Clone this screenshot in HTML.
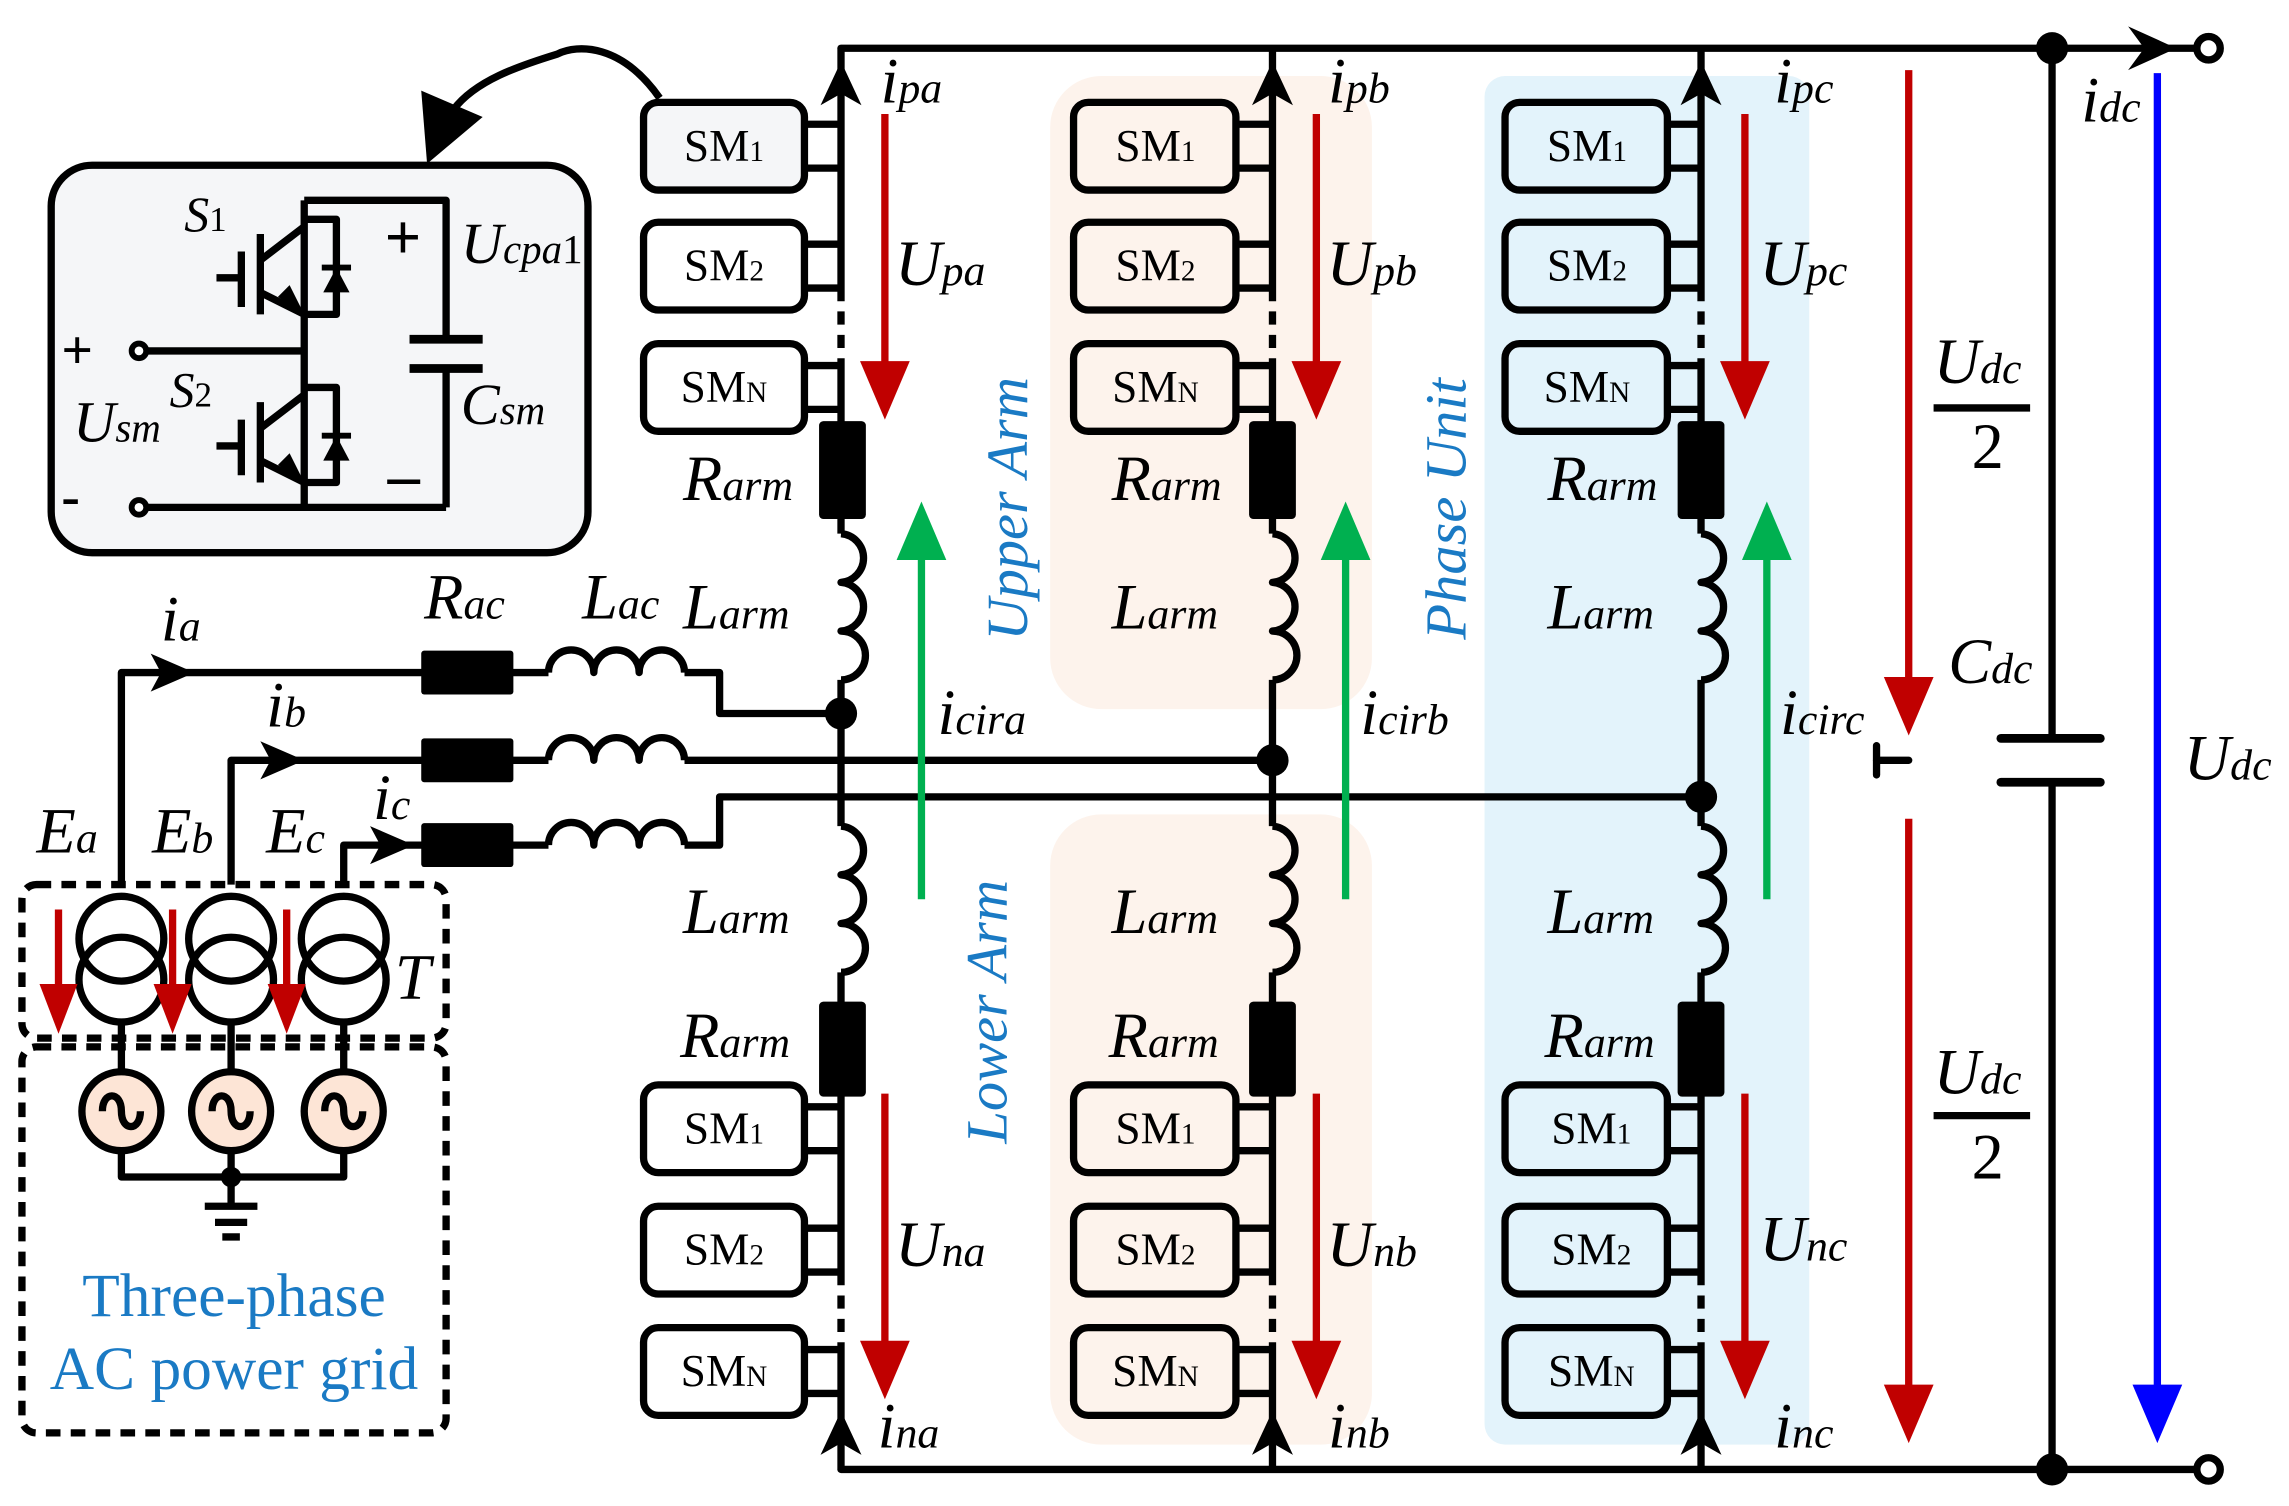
<!DOCTYPE html>
<html><head><meta charset="utf-8"><style>
html,body{margin:0;padding:0;background:#fff}
svg{display:block}
text{font-family:"Liberation Serif",serif}
.it{font-style:italic}
</style></head><body>
<svg width="2289" height="1506" viewBox="0 0 1565 1030" preserveAspectRatio="none" xmlns="http://www.w3.org/2000/svg">
<rect width="1565" height="1030" fill="#fff"/>
<rect x="718" y="52" width="220" height="433" rx="35" fill="#fdf3ec"/>
<rect x="718" y="557" width="220" height="431" rx="35" fill="#fdf3ec"/>
<rect x="1015" y="52" width="222" height="936" rx="14" fill="#e3f3fb"/>

<g stroke="#000" stroke-width="5" fill="none" stroke-linecap="round" stroke-linejoin="round">
<line x1="575" y1="33" x2="1502" y2="33"/>
<line x1="575" y1="1005" x2="1502" y2="1005"/>
<line x1="1403" y1="33" x2="1403" y2="505"/>
<line x1="1403" y1="535" x2="1403" y2="1005"/>
<line x1="1368" y1="505" x2="1436" y2="505" stroke-width="6"/>
<line x1="1368" y1="535" x2="1436" y2="535" stroke-width="6"/>
<line x1="1283" y1="520" x2="1305" y2="520"/>
<line x1="1283" y1="510" x2="1283" y2="530"/>
</g>
<circle cx="1403" cy="33" r="11" fill="#000"/>
<circle cx="1403" cy="1005" r="11" fill="#000"/>
<circle cx="1510" cy="33" r="8" fill="#fff" stroke="#000" stroke-width="5"/>
<circle cx="1510" cy="1005" r="8" fill="#fff" stroke="#000" stroke-width="5"/>
<polygon points="1488,33 1455,18 1466,33 1455,48" fill="#000"/>

<g stroke="#000" stroke-width="5" fill="none" stroke-linejoin="round">
<path d="M575,33V197 M575,250V365 M575,465V565 M575,665V870 M575,923V1005"/>
<path d="M575,197V250 M575,870V923" stroke-dasharray="9,7"/>
<path d="M575,365a16.7,16.7 0 0 1 0,33.3a16.7,16.7 0 0 1 0,33.3a16.7,16.7 0 0 1 0,33.4"/>
<path d="M575,565a16.7,16.7 0 0 1 0,33.3a16.7,16.7 0 0 1 0,33.3a16.7,16.7 0 0 1 0,33.4"/>
<path d="M870,33V197 M870,250V365 M870,465V565 M870,665V870 M870,923V1005"/>
<path d="M870,197V250 M870,870V923" stroke-dasharray="9,7"/>
<path d="M870,365a16.7,16.7 0 0 1 0,33.3a16.7,16.7 0 0 1 0,33.3a16.7,16.7 0 0 1 0,33.4"/>
<path d="M870,565a16.7,16.7 0 0 1 0,33.3a16.7,16.7 0 0 1 0,33.3a16.7,16.7 0 0 1 0,33.4"/>
<path d="M1163,33V197 M1163,250V365 M1163,465V565 M1163,665V870 M1163,923V1005"/>
<path d="M1163,197V250 M1163,870V923" stroke-dasharray="9,7"/>
<path d="M1163,365a16.7,16.7 0 0 1 0,33.3a16.7,16.7 0 0 1 0,33.3a16.7,16.7 0 0 1 0,33.4"/>
<path d="M1163,565a16.7,16.7 0 0 1 0,33.3a16.7,16.7 0 0 1 0,33.3a16.7,16.7 0 0 1 0,33.4"/>
<path d="M550,85H575 M550,115H575 M550,167H575 M550,197H575 M550,250H575 M550,280H575 M550,757H575 M550,787H575 M550,840H575 M550,870H575 M550,923H575 M550,953H575"/>
<path d="M845,85H870 M845,115H870 M845,167H870 M845,197H870 M845,250H870 M845,280H870 M845,757H870 M845,787H870 M845,840H870 M845,870H870 M845,923H870 M845,953H870"/>
<path d="M1140,85H1163 M1140,115H1163 M1140,167H1163 M1140,197H1163 M1140,250H1163 M1140,280H1163 M1140,757H1163 M1140,787H1163 M1140,840H1163 M1140,870H1163 M1140,923H1163 M1140,953H1163"/>
<rect x="440" y="70" width="110" height="60" rx="10" fill="#f5f6f8"/>
<rect x="440" y="152" width="110" height="60" rx="10" fill="#fff"/>
<rect x="440" y="235" width="110" height="60" rx="10" fill="#fff"/>
<rect x="440" y="742" width="110" height="60" rx="10" fill="#fff"/>
<rect x="440" y="825" width="110" height="60" rx="10" fill="#fff"/>
<rect x="440" y="908" width="110" height="60" rx="10" fill="#fff"/>
<rect x="734" y="70" width="111" height="60" rx="10" fill="#fdf3ec"/>
<rect x="734" y="152" width="111" height="60" rx="10" fill="#fdf3ec"/>
<rect x="734" y="235" width="111" height="60" rx="10" fill="#fdf3ec"/>
<rect x="734" y="742" width="111" height="60" rx="10" fill="#fdf3ec"/>
<rect x="734" y="825" width="111" height="60" rx="10" fill="#fdf3ec"/>
<rect x="734" y="908" width="111" height="60" rx="10" fill="#fdf3ec"/>
<rect x="1029" y="70" width="111" height="60" rx="10" fill="#e3f3fb"/>
<rect x="1029" y="152" width="111" height="60" rx="10" fill="#e3f3fb"/>
<rect x="1029" y="235" width="111" height="60" rx="10" fill="#e3f3fb"/>
<rect x="1029" y="742" width="111" height="60" rx="10" fill="#e3f3fb"/>
<rect x="1029" y="825" width="111" height="60" rx="10" fill="#e3f3fb"/>
<rect x="1029" y="908" width="111" height="60" rx="10" fill="#e3f3fb"/>
<path d="M83,605V460H290 M350,460H375 M468,460H492V488H575"/>
<path d="M375,460a15.5,15.5 0 0 1 31,0a15.5,15.5 0 0 1 31,0a15.5,15.5 0 0 1 31,0"/>
<path d="M158,605V520H290 M350,520H375 M468,520H870"/>
<path d="M375,520a15.5,15.5 0 0 1 31,0a15.5,15.5 0 0 1 31,0a15.5,15.5 0 0 1 31,0"/>
<path d="M235,605V578H290 M350,578H375 M468,578H492V545H1163"/>
<path d="M375,578a15.5,15.5 0 0 1 31,0a15.5,15.5 0 0 1 31,0a15.5,15.5 0 0 1 31,0"/>
<circle cx="83" cy="642" r="29"/><circle cx="83" cy="670" r="29"/>
<circle cx="158" cy="642" r="29"/><circle cx="158" cy="670" r="29"/>
<circle cx="235" cy="642" r="29"/><circle cx="235" cy="670" r="29"/>
<path d="M83,699V733 M158,699V733 M235,699V733"/>
<circle cx="83" cy="760" r="27" fill="#fde5d6"/>
<circle cx="158" cy="760" r="27" fill="#fde5d6"/>
<circle cx="235" cy="760" r="27" fill="#fde5d6"/>
<path d="M70,760c0,-14 13,-14 13,0s13,14 13,0 M145,760c0,-14 13,-14 13,0s13,14 13,0 M222,760c0,-14 13,-14 13,0s13,14 13,0"/>
<path d="M83,787V805H235V787 M158,787V825 M140,825H176 M147,836H169 M152,846H164"/>
<rect x="15" y="605" width="290" height="105" rx="10" stroke-dasharray="10,7"/>
<rect x="15" y="716" width="290" height="264" rx="10" stroke-dasharray="10,7"/>
<rect x="35" y="113" width="367" height="265" rx="28" fill="#f5f6f8"/>
<path d="M451,67C425,30 395,30 381,37C355,45 325,55 310,75" stroke-width="5"/>
<path d="M95,240H208 M95,347H305 M208,137H305V232 M305,252V347 M208,137V347"/>
<path d="M280,232H330 M280,252H330" stroke-width="6"/>
<path d="M208,150H230V215H208 M208,265H230V330H208"/>
<path d="M178,160V215 M165,172V210 M148,190H165 M178,178L208,155 M178,200L208,215"/>
<path d="M178,275V330 M165,287V325 M148,305H165 M178,293L208,270 M178,315L208,330"/>
</g>
<polygon points="288,62 330,80 292,112" fill="#000"/>
<circle cx="95" cy="240" r="5" fill="#fff" stroke="#000" stroke-width="4"/>
<circle cx="95" cy="347" r="5" fill="#fff" stroke="#000" stroke-width="4"/>
<polygon points="221,200 239,200 230,183" fill="#000"/><line x1="220" y1="183" x2="240" y2="183" stroke="#000" stroke-width="4"/>
<polygon points="221,315 239,315 230,298" fill="#000"/><line x1="220" y1="298" x2="240" y2="298" stroke="#000" stroke-width="4"/>
<polygon points="208,215 190,203 198,195" fill="#000"/>
<polygon points="208,330 190,318 198,310" fill="#000"/>
<text x="263" y="177" font-size="44" font-weight="bold">+</text>
<text x="265" y="340" font-size="44" font-weight="bold">–</text>
<text x="42" y="252" font-size="38" font-weight="bold">+</text>
<text x="42" y="352" font-size="38" font-weight="bold">-</text>
<text x="126" y="158" font-size="34" class="it">S<tspan font-size="24" font-style="normal">1</tspan></text>
<text x="116" y="278" font-size="34" class="it">S<tspan font-size="24" font-style="normal">2</tspan></text>
<text x="315" y="180" font-size="40" class="it">U<tspan font-size="28">cpa</tspan><tspan font-size="28" font-style="normal">1</tspan></text>
<text x="315" y="290" font-size="40" class="it">C<tspan font-size="28">sm</tspan></text>
<text x="50" y="302" font-size="40" class="it">U<tspan font-size="28">sm</tspan></text>

<g fill="#000">
<rect x="560" y="288" width="32" height="67" rx="3"/><rect x="560" y="685" width="32" height="65" rx="3"/>
<rect x="854" y="288" width="32" height="67" rx="3"/><rect x="854" y="685" width="32" height="65" rx="3"/>
<rect x="1147" y="288" width="32" height="67" rx="3"/><rect x="1147" y="685" width="32" height="65" rx="3"/>
<rect x="288" y="445" width="63" height="30" rx="2"/><rect x="288" y="505" width="63" height="30" rx="2"/><rect x="288" y="563" width="63" height="30" rx="2"/>
<circle cx="575" cy="488" r="11"/><circle cx="870" cy="520" r="11"/><circle cx="1163" cy="545" r="11"/><circle cx="158" cy="805" r="7"/>
<polygon points="575,42 561,72 575,64 589,72"/><polygon points="870,42 856,72 870,64 884,72"/><polygon points="1163,42 1149,72 1163,64 1177,72"/>
<polygon points="575,965 561,995 575,987 589,995"/><polygon points="870,965 856,995 870,987 884,995"/><polygon points="1163,965 1149,995 1163,987 1177,995"/>
<polygon points="133,460 103,447 110,460 103,473"/><polygon points="208,520 178,507 185,520 178,533"/><polygon points="283,578 253,565 260,578 253,591"/>
</g>
<g stroke="#c00000" stroke-width="5">
<line x1="605" y1="78" x2="605" y2="255"/><line x1="900" y1="78" x2="900" y2="255"/><line x1="1193" y1="78" x2="1193" y2="255"/>
<line x1="605" y1="748" x2="605" y2="925"/><line x1="900" y1="748" x2="900" y2="925"/><line x1="1193" y1="748" x2="1193" y2="925"/>
<line x1="1305" y1="48" x2="1305" y2="470"/><line x1="1305" y1="560" x2="1305" y2="955"/>
<line x1="40" y1="622" x2="40" y2="680"/><line x1="118" y1="622" x2="118" y2="680"/><line x1="196" y1="622" x2="196" y2="680"/>
</g>
<g fill="#c00000">
<polygon points="605,287 588,247 622,247"/><polygon points="900,287 883,247 917,247"/><polygon points="1193,287 1176,247 1210,247"/>
<polygon points="605,957 588,917 622,917"/><polygon points="900,957 883,917 917,917"/><polygon points="1193,957 1176,917 1210,917"/>
<polygon points="1305,503 1288,463 1322,463"/><polygon points="1305,987 1288,947 1322,947"/>
<polygon points="40,707 27,673 53,673"/><polygon points="118,707 105,673 131,673"/><polygon points="196,707 183,673 209,673"/>
</g>
<g stroke="#00b050" stroke-width="5">
<line x1="630" y1="615" x2="630" y2="375"/><line x1="920" y1="615" x2="920" y2="375"/><line x1="1208" y1="615" x2="1208" y2="375"/>
</g>
<g fill="#00b050">
<polygon points="630,343 613,383 647,383"/><polygon points="920,343 903,383 937,383"/><polygon points="1208,343 1191,383 1225,383"/>
</g>
<line x1="1475" y1="50" x2="1475" y2="955" stroke="#0000ff" stroke-width="5"/>
<polygon points="1475,987 1458,947 1492,947" fill="#0000ff"/>

<g font-size="31" text-anchor="middle">
<text x="495" y="110">SM<tspan font-size="20">1</tspan></text><text x="495" y="192">SM<tspan font-size="20">2</tspan></text><text x="495" y="275">SM<tspan font-size="20">N</tspan></text>
<text x="495" y="782">SM<tspan font-size="20">1</tspan></text><text x="495" y="865">SM<tspan font-size="20">2</tspan></text><text x="495" y="948">SM<tspan font-size="20">N</tspan></text>
<text x="790" y="110">SM<tspan font-size="20">1</tspan></text><text x="790" y="192">SM<tspan font-size="20">2</tspan></text><text x="790" y="275">SM<tspan font-size="20">N</tspan></text>
<text x="790" y="782">SM<tspan font-size="20">1</tspan></text><text x="790" y="865">SM<tspan font-size="20">2</tspan></text><text x="790" y="948">SM<tspan font-size="20">N</tspan></text>
<text x="1085" y="110">SM<tspan font-size="20">1</tspan></text><text x="1085" y="192">SM<tspan font-size="20">2</tspan></text><text x="1085" y="275">SM<tspan font-size="20">N</tspan></text>
<text x="1088" y="782">SM<tspan font-size="20">1</tspan></text><text x="1088" y="865">SM<tspan font-size="20">2</tspan></text><text x="1088" y="948">SM<tspan font-size="20">N</tspan></text>
</g>
<g class="it" font-size="44">
<text x="602" y="70">i<tspan font-size="30">pa</tspan></text><text x="908" y="70">i<tspan font-size="30">pb</tspan></text><text x="1213" y="70">i<tspan font-size="30">pc</tspan></text>
<text x="600" y="990">i<tspan font-size="30">na</tspan></text><text x="908" y="990">i<tspan font-size="30">nb</tspan></text><text x="1213" y="990">i<tspan font-size="30">nc</tspan></text>
<text x="1423" y="83">i<tspan font-size="30">dc</tspan></text>
<text x="612" y="195">U<tspan font-size="30">pa</tspan></text><text x="907" y="195">U<tspan font-size="30">pb</tspan></text><text x="1203" y="195">U<tspan font-size="30">pc</tspan></text>
<text x="612" y="866">U<tspan font-size="30">na</tspan></text><text x="907" y="866">U<tspan font-size="30">nb</tspan></text><text x="1203" y="862">U<tspan font-size="30">nc</tspan></text>
<text x="467" y="342">R<tspan font-size="30">arm</tspan></text><text x="760" y="342">R<tspan font-size="30">arm</tspan></text><text x="1058" y="342">R<tspan font-size="30">arm</tspan></text>
<text x="467" y="430">L<tspan font-size="30">arm</tspan></text><text x="760" y="430">L<tspan font-size="30">arm</tspan></text><text x="1058" y="430">L<tspan font-size="30">arm</tspan></text>
<text x="467" y="638">L<tspan font-size="30">arm</tspan></text><text x="760" y="638">L<tspan font-size="30">arm</tspan></text><text x="1058" y="638">L<tspan font-size="30">arm</tspan></text>
<text x="465" y="723">R<tspan font-size="30">arm</tspan></text><text x="758" y="723">R<tspan font-size="30">arm</tspan></text><text x="1056" y="723">R<tspan font-size="30">arm</tspan></text>
<text x="641" y="502">i<tspan font-size="30">cira</tspan></text><text x="930" y="502">i<tspan font-size="30">cirb</tspan></text><text x="1217" y="502">i<tspan font-size="30">circ</tspan></text>
<text x="290" y="423">R<tspan font-size="30">ac</tspan></text><text x="398" y="423">L<tspan font-size="30">ac</tspan></text>
<text x="110" y="438">i<tspan font-size="30">a</tspan></text><text x="182" y="497">i<tspan font-size="30">b</tspan></text><text x="255" y="560">i<tspan font-size="30">c</tspan></text>
<text x="25" y="583">E<tspan font-size="30">a</tspan></text><text x="104" y="583">E<tspan font-size="30">b</tspan></text><text x="182" y="583">E<tspan font-size="30">c</tspan></text>
<text x="270" y="683">T</text>
<text x="1332" y="467">C<tspan font-size="30">dc</tspan></text>
<text x="1493" y="533">U<tspan font-size="30">dc</tspan></text>
<text x="1322" y="262">U<tspan font-size="30">dc</tspan></text>
<text x="1322" y="748">U<tspan font-size="30">dc</tspan></text>
</g>
<g stroke="#000" stroke-width="5"><line x1="1322" y1="279" x2="1388" y2="279"/><line x1="1322" y1="763" x2="1388" y2="763"/></g>
<text x="1348" y="320" font-size="44">2</text>
<text x="1348" y="806" font-size="44">2</text>
<g class="it" font-size="40" fill="#1a7ac4">
<text transform="translate(702,348) rotate(-90)" text-anchor="middle">Upper Arm</text>
<text transform="translate(688,692) rotate(-90)" text-anchor="middle">Lower Arm</text>
<text transform="translate(1002,348) rotate(-90)" text-anchor="middle">Phase Unit</text>
</g>
<g font-size="42" fill="#1a7ac4" text-anchor="middle">
<text x="160" y="900">Three-phase</text>
<text x="160" y="950">AC power grid</text>
</g>
</svg>
</body></html>
